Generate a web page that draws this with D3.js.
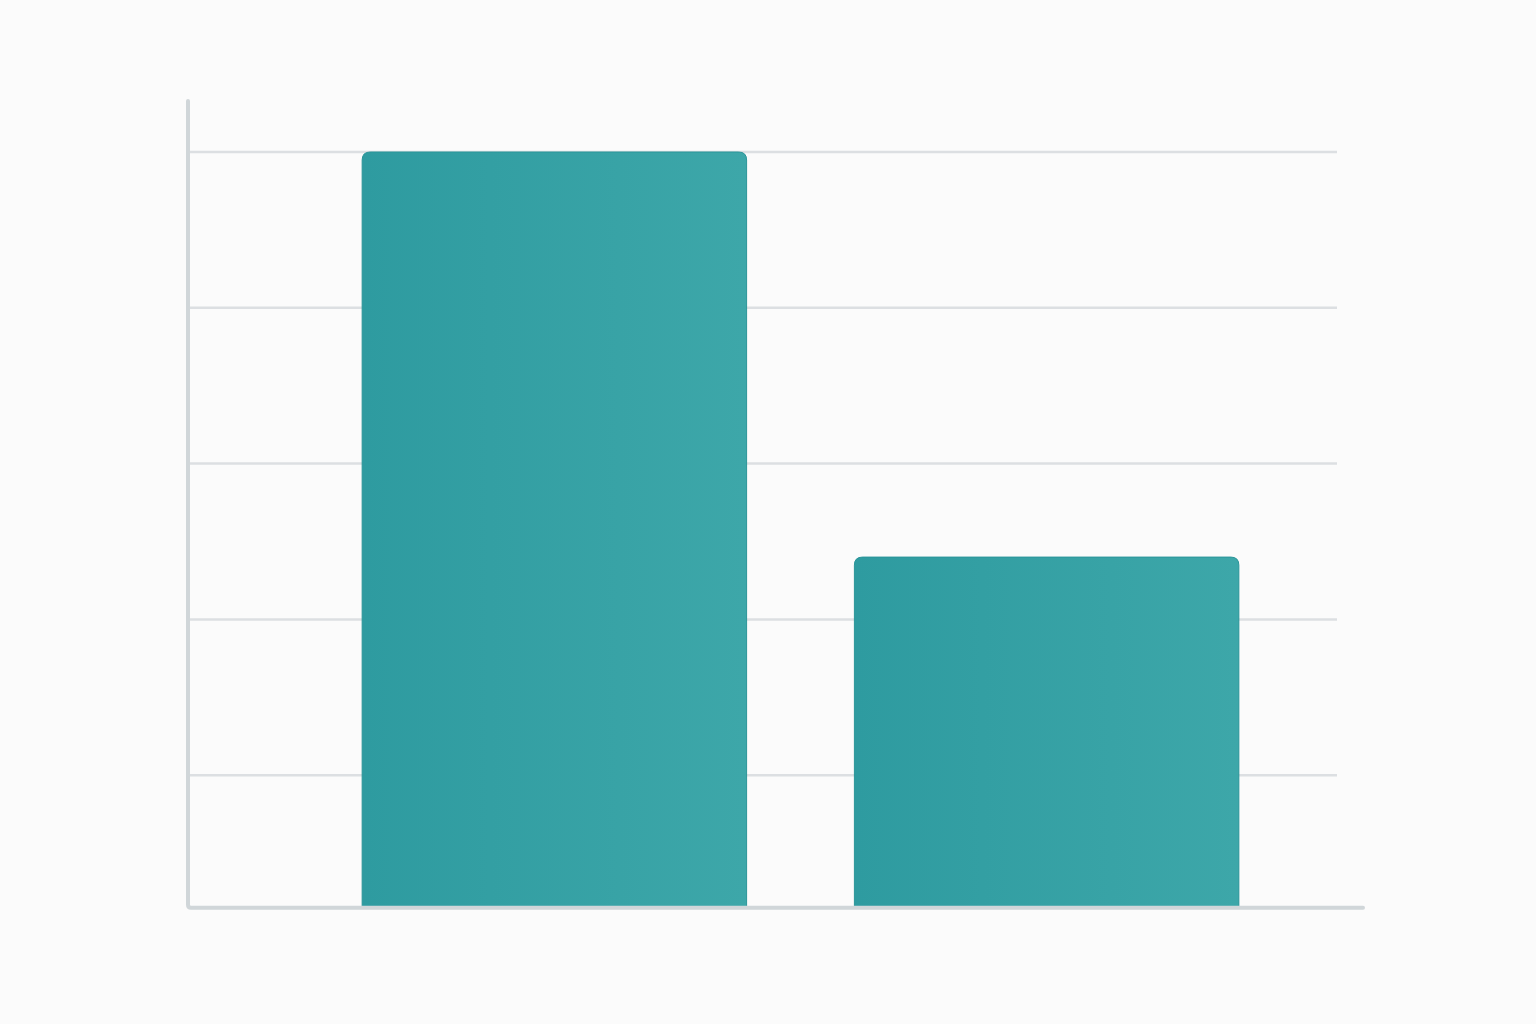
<!DOCTYPE html>
<html>
<head>
<meta charset="utf-8">
<script src="https://cdn.jsdelivr.net/npm/d3@7"></script>
<style>
  html, body { margin: 0; padding: 0; background: #fbfbfb; }
  svg { display: block; }
</style>
</head>
<body>
<svg id="chart" width="1536" height="1024"></svg>
<script>
// ---- data ----
const categories = ["A", "B"];
const values = [5.0, 2.4];
const tickValues = [1, 2, 3, 4, 5];
const baseline = 0.15;

// ---- layout ----
const svg = d3.select("#chart");
const W = 1536, H = 1024;
svg.append("rect").attr("width", W).attr("height", H).attr("fill", "#fbfbfb");

const y = d3.scaleLinear().domain([0, 5]).range([931, 152]);
const x = d3.scaleBand().domain(categories)
  .range([308, 1293]).paddingInner(0.219).paddingOuter(0.11);

const axisX0 = 188, axisX1 = 1363, gridX1 = 1337, axisTop = 101;

// gradient for bars
const defs = svg.append("defs");
const grad = defs.append("linearGradient").attr("id", "barGrad")
  .attr("x1", "0").attr("y1", "0").attr("x2", "1").attr("y2", "0");
grad.append("stop").attr("offset", "0%").attr("stop-color", "#2e9ba0");
grad.append("stop").attr("offset", "100%").attr("stop-color", "#3da7a9");

// gridlines
svg.append("g").selectAll("line").data(tickValues).join("line")
  .attr("x1", axisX0 + 2).attr("x2", gridX1)
  .attr("y1", d => y(d)).attr("y2", d => y(d))
  .attr("stroke", "#dcdfe2").attr("stroke-width", 2.5);

// bars: rounded top corners only
const r = 8;
function barPath(d, i) {
  const x0 = x(categories[i]), x1 = x0 + x.bandwidth();
  const yt = y(d), yb = y(baseline);
  return `M${x0},${yb} L${x0},${yt + r} Q${x0},${yt} ${x0 + r},${yt} L${x1 - r},${yt} Q${x1},${yt} ${x1},${yt + r} L${x1},${yb} Z`;
}
svg.append("g").selectAll("path").data(values).join("path")
  .attr("d", (d, i) => barPath(d, i))
  .attr("fill", "url(#barGrad)")
  .attr("stroke", "#2a9599").attr("stroke-width", 1);

// axes (L-shape with rounded corner)
const yb = y(baseline);
svg.append("path")
  .attr("d", `M${axisX0},${axisTop} L${axisX0},${yb - 3} Q${axisX0},${yb} ${axisX0 + 3},${yb} L${axisX1},${yb}`)
  .attr("fill", "none").attr("stroke", "#d0d6d9").attr("stroke-width", 4)
  .attr("stroke-linecap", "round");
</script>
</body>
</html>
